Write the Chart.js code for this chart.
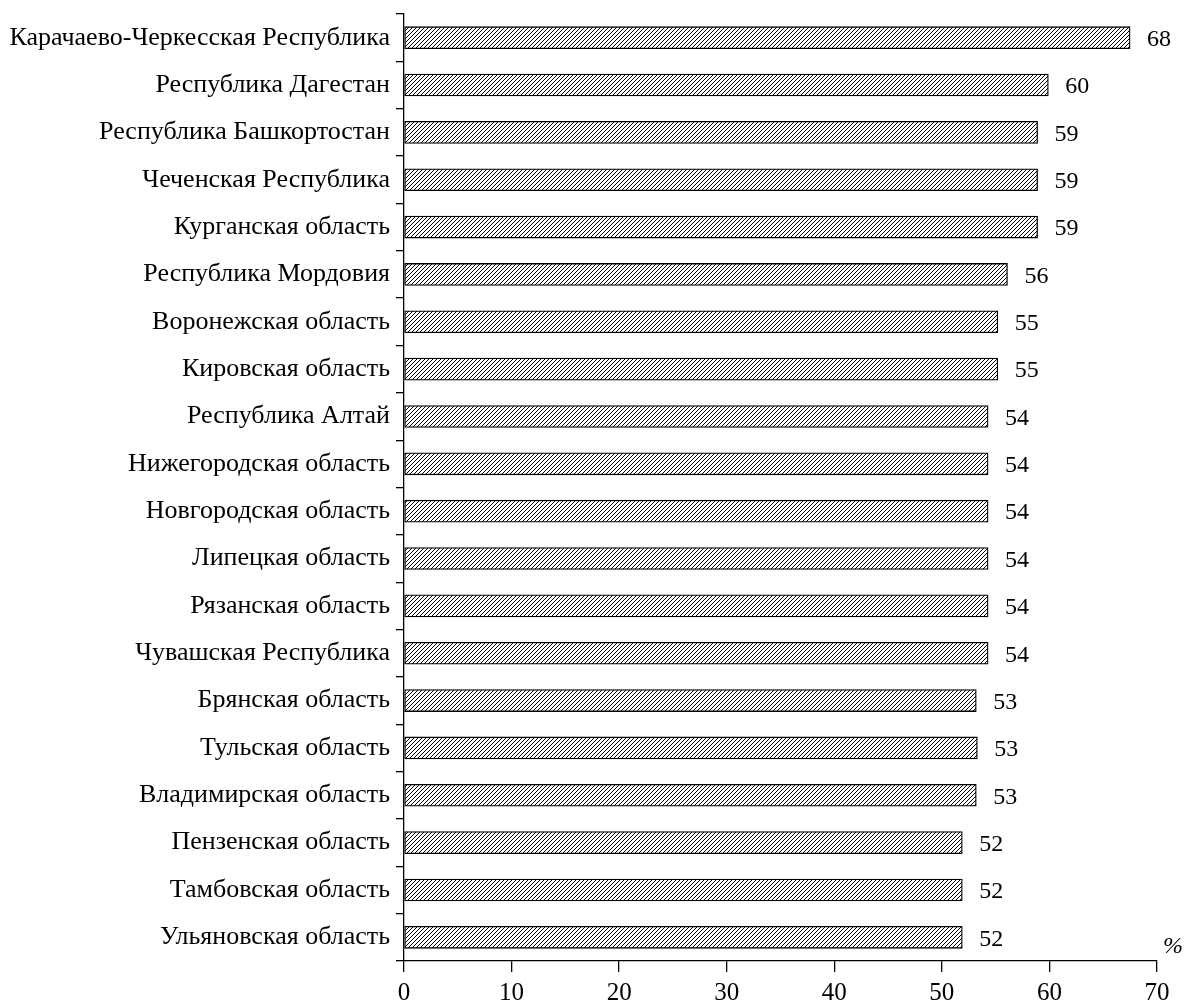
<!DOCTYPE html>
<html>
<head>
<meta charset="utf-8">
<script src="https://cdn.jsdelivr.net/npm/chart.js@4"></script>
<style>
  html, body { margin: 0; padding: 0; background: #fff; }
  #wrap { width: 1185px; height: 1004px; }
</style>
</head>
<body>
<div id="wrap"><canvas id="barchart"></canvas></div>
<script>
const regions = [
    'Карачаево-Черкесская Республика',
    'Республика Дагестан',
    'Республика Башкортостан',
    'Чеченская Республика',
    'Курганская область',
    'Республика Мордовия',
    'Воронежская область',
    'Кировская область',
    'Республика Алтай',
    'Нижегородская область',
    'Новгородская область',
    'Липецкая область',
    'Рязанская область',
    'Чувашская Республика',
    'Брянская область',
    'Тульская область',
    'Владимирская область',
    'Пензенская область',
    'Тамбовская область',
    'Ульяновская область'
];
// bar lengths as drawn
const shares = [67.5, 59.9, 58.9, 58.9, 58.9, 56.1, 55.2, 55.2, 54.3, 54.3,
                54.3, 54.3, 54.3, 54.3, 53.2, 53.3, 53.2, 51.9, 51.9, 51.9];
// numbers printed next to the bars
const printed = ['68', '60', '59', '59', '59', '56', '55', '55', '54', '54',
                 '54', '54', '54', '54', '53', '53', '53', '52', '52', '52'];
const xTicks = [0, 10, 20, 30, 40, 50, 60, 70];

const FONT = '"Liberation Serif", "DejaVu Serif", serif';

function hatch() {
    const c = document.createElement('canvas');
    c.width = 4; c.height = 4;
    const g = c.getContext('2d');
    g.fillStyle = '#fff';
    g.fillRect(0, 0, 4, 4);
    g.strokeStyle = '#000';
    g.lineWidth = 1;
    g.beginPath();
    g.moveTo(-1, 5); g.lineTo(5, -1);
    g.moveTo(-1, 1); g.lineTo(1, -1);
    g.moveTo(3, 5); g.lineTo(5, 3);
    g.stroke();
    return g.createPattern(c, 'repeat');
}

const valueLabels = {
    id: 'valueLabels',
    afterDatasetsDraw(chart) {
        const ctx = chart.ctx;
        const meta = chart.getDatasetMeta(0);
        ctx.save();
        ctx.font = '24px ' + FONT;
        ctx.fillStyle = '#000';
        ctx.textAlign = 'left';
        ctx.textBaseline = 'middle';
        meta.data.forEach(function (bar, i) {
            ctx.fillText(printed[i], bar.x + 17, bar.y + 2);
        });
        // unit sign at the end of the x axis
        const x = chart.scales.x;
        ctx.font = 'italic 24px ' + FONT;
        ctx.fillText('%', x.right + 6, x.top - 14);
        ctx.restore();
    }
};

document.addEventListener('DOMContentLoaded', function () {
    const ctx = document.getElementById('barchart');

    new Chart(ctx, {
        type: 'bar',
        data: {
            labels: regions,
            datasets: [{
                data: shares,
                backgroundColor: hatch(),
                borderColor: '#000',
                borderWidth: 1.3,
                borderSkipped: false,
                barThickness: 22
            }]
        },
        options: {
            indexAxis: 'y',
            responsive: true,
            maintainAspectRatio: false,
            animation: false,
            layout: { padding: { top: 14, right: 28, left: 0, bottom: 0 } },
            scales: {
                x: {
                    min: 0,
                    max: 70,
                    afterBuildTicks: function (s) {
                        s.ticks = xTicks.map(v => ({ value: v }));
                    },
                    afterFit: function (s) { s.height = 43; },
                    border: { display: true, color: '#000', width: 1.3 },
                    grid: {
                        drawOnChartArea: false,
                        drawTicks: true,
                        tickLength: 11,
                        color: '#000',
                        lineWidth: 1.3
                    },
                    ticks: {
                        color: '#000',
                        font: { family: FONT, size: 25 },
                        padding: 6,
                        maxRotation: 0
                    }
                },
                y: {
                    offset: true,
                    afterFit: function (s) {
                        s.width = 404;
                        s.paddingTop = 0;
                        s.paddingBottom = 0;
                    },
                    border: { display: true, color: '#000', width: 1.3 },
                    grid: {
                        offset: true,
                        drawOnChartArea: false,
                        drawTicks: true,
                        tickLength: 8,
                        color: '#000',
                        lineWidth: 1.3
                    },
                    ticks: {
                        color: '#000',
                        font: { family: FONT, size: 26 },
                        padding: 6
                    }
                }
            },
            plugins: {
                legend: { display: false },
                tooltip: { enabled: false }
            }
        },
        plugins: [valueLabels]
    });
});
</script>
</body>
</html>
